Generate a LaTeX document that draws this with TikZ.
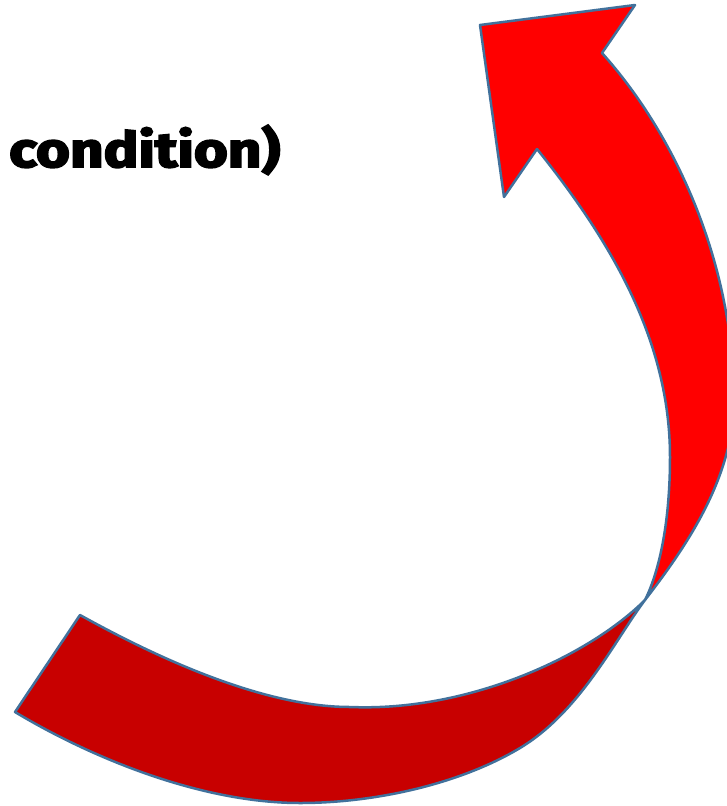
\documentclass[tikz,border=0pt]{standalone}
\usepackage{fontspec}
\usepackage{graphicx}
\newfontfamily\labelfont[FakeBold=3.5]{Fira Sans}
\definecolor{brightred}{RGB}{255,0,0}
\definecolor{darkred}{RGB}{200,0,0}
\definecolor{edgeblue}{RGB}{65,113,156}
\tikzset{
  band/.style={draw=edgeblue, line width=2.5pt, line join=round},
  txt/.style={inner sep=0pt, anchor=base west}
}
\begin{document}
\begin{tikzpicture}[x=1pt,y=-1pt]
\useasboundingbox (0,0) rectangle (727,806);
\begin{scope}
\clip (-5,-5) rectangle (727,811);
% back (dark) part of the band
\coordinate (cross) at (645,600);
\coordinate (endtop) at (80,615);
\coordinate (endbot) at (15,712);
\coordinate (innerlow) at (350,707);
\coordinate (outerlow) at (300,803);
\coordinate (outermid) at (520,748);
\filldraw[band, fill=darkred]
  (endtop) .. controls (170,665) and (270,707) .. (innerlow)
           .. controls (470,712) and (590,655) .. (cross)
           .. controls (615,640) and (580,712) .. (outermid)
           .. controls (460,784) and (375,803) .. (outerlow)
           .. controls (200,803) and (90,757) .. (endbot)
  -- cycle;
% front (bright) part with the head
\coordinate (outerright) at (734,400);
\coordinate (notchR) at (602,53);
\coordinate (tipR) at (635,5);
\coordinate (tipL) at (480,25);
\coordinate (tipB) at (504,197);
\coordinate (notchL) at (537,149);
\coordinate (innerright) at (670,457);
\filldraw[band, fill=brightred]
  (cross) .. controls (682,552) and (734,480) .. (outerright)
          .. controls (734,270) and (680,140) .. (notchR)
  -- (tipR) -- (tipL) -- (tipB) -- (notchL)
          .. controls (610,240) and (670,340) .. (innerright)
          .. controls (670,520) and (660,570) .. (cross)
  -- cycle;
\end{scope}
\node[txt] (lbl) at (9,167) {\resizebox{271pt}{42pt}{\labelfont\bfseries condition)}};
\end{tikzpicture}
\end{document}
